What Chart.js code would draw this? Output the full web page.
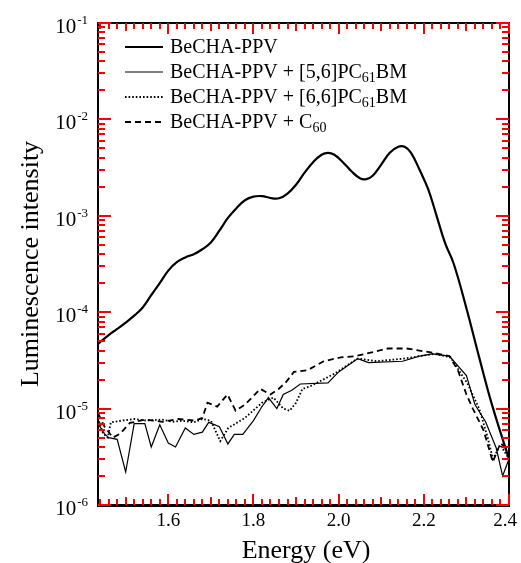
<!DOCTYPE html>
<html><head><meta charset="utf-8">
<script src="https://cdn.jsdelivr.net/npm/chart.js@4.4.1/dist/chart.umd.min.js"></script>
<style>html,body{margin:0;padding:0;background:#fff}#wrap{width:521px;height:563px}</style>
</head><body><div id="wrap"><canvas id="c" width="521" height="563"></canvas></div>
<script>
// ---- data ----
const seriesNames = ["BeCHA-PPV", "BeCHA-PPV + [5,6]PC61BM", "BeCHA-PPV + [6,6]PC61BM", "BeCHA-PPV + C60"];
const pristineE = [1.435,1.46,1.48,1.50,1.52,1.54,1.56,1.58,1.60,1.62,1.64,1.66,1.68,1.70,1.72,1.74,1.76,1.78,1.80,1.82,1.84,1.86,1.88,1.90,1.92,1.94,1.96,1.975,1.99,2.01,2.03,2.05,2.065,2.08,2.10,2.12,2.14,2.155,2.17,2.19,2.21,2.23,2.25,2.27,2.30,2.33,2.36,2.40];
const pristineI = [4.7e-5,5.8e-5,6.7e-5,7.8e-5,9.2e-5,1.12e-4,1.5e-4,2.0e-4,2.7e-4,3.3e-4,3.7e-4,4.0e-4,4.5e-4,5.3e-4,7.0e-4,9.5e-4,1.2e-3,1.45e-3,1.58e-3,1.6e-3,1.53e-3,1.52e-3,1.7e-3,2.1e-3,2.8e-3,3.6e-3,4.3e-3,4.5e-3,4.3e-3,3.6e-3,2.9e-3,2.45e-3,2.4e-3,2.6e-3,3.4e-3,4.5e-3,5.2e-3,5.2e-3,4.5e-3,3.0e-3,1.9e-3,1.0e-3,5.2e-4,3.2e-4,1.1e-4,3.4e-5,1.1e-5,3.0e-6];
const pc56E = [1.435,1.45,1.46,1.48,1.50,1.52,1.545,1.56,1.58,1.60,1.617,1.64,1.66,1.68,1.695,1.72,1.74,1.755,1.775,1.80,1.82,1.835,1.855,1.87,1.89,1.91,1.975,2.00,2.045,2.07,2.15,2.19,2.22,2.26,2.30,2.32,2.345,2.37,2.385,2.40];
const pc56I = [7e-6,5.5e-6,5e-6,4.8e-6,2.2e-6,7e-6,7e-6,4e-6,6.8e-6,4.4e-6,4e-6,6.3e-6,5.4e-6,5.7e-6,7.2e-6,6.5e-6,4.3e-6,5.4e-6,5.4e-6,7.5e-6,1.05e-5,1.3e-5,1.0e-5,1.4e-5,1.55e-5,1.8e-5,1.85e-5,2.4e-5,3.3e-5,3.0e-5,3.1e-5,3.5e-5,3.7e-5,3.5e-5,2.2e-5,1.1e-5,7.3e-6,3.9e-6,2.0e-6,3.0e-6];
const pc66E = [1.435,1.447,1.458,1.465,1.49,1.52,1.55,1.586,1.61,1.633,1.66,1.68,1.70,1.722,1.741,1.78,1.82,1.847,1.87,1.885,1.90,1.915,1.933,1.99,2.044,2.09,2.153,2.225,2.263,2.303,2.33,2.35,2.362,2.38,2.40];
const pc66I = [8e-6,5.5e-6,5.0e-6,7.2e-6,7.5e-6,7.8e-6,7.5e-6,7.7e-6,7.3e-6,7.5e-6,7.2e-6,7.8e-6,7.5e-6,4.6e-6,6.3e-6,8e-6,1.15e-5,1.3e-5,1.0e-5,9.5e-6,1.15e-5,1.6e-5,1.7e-5,2.3e-5,3.3e-5,3.1e-5,3.3e-5,3.7e-5,3.4e-5,1.8e-5,1.0e-5,5e-6,3e-6,4.2e-6,3e-6];
const c60E = [1.435,1.45,1.47,1.487,1.51,1.546,1.586,1.623,1.663,1.68,1.692,1.715,1.739,1.758,1.78,1.816,1.84,1.859,1.875,1.895,1.927,1.965,2.005,2.04,2.075,2.115,2.16,2.22,2.26,2.28,2.30,2.315,2.34,2.362,2.38,2.40];
const c60I = [9e-6,6.5e-6,5e-6,5.5e-6,7.1e-6,7.7e-6,7.3e-6,7.8e-6,7.5e-6,8e-6,1.15e-5,1.05e-5,1.4e-5,9.5e-6,1.1e-5,1.6e-5,1.4e-5,1.6e-5,1.85e-5,2.4e-5,2.5e-5,3.1e-5,3.4e-5,3.5e-5,3.8e-5,4.2e-5,4.2e-5,3.8e-5,3.5e-5,2.5e-5,1.4e-5,1.0e-5,6e-6,2.8e-6,4.4e-6,3.6e-6];
const xTicks = [1.6, 1.8, 2.0, 2.2, 2.4];
const xTickLabels = ["1.6", "1.8", "2.0", "2.2", "2.4"];
const yTicks = [1e-6, 1e-5, 1e-4, 1e-3, 1e-2, 1e-1];
const yTickExps = ["-6", "-5", "-4", "-3", "-2", "-1"];
const xTitle = "Energy (eV)";
const yTitle = "Luminescence intensity";

const pts = (E, I) => E.map((e, i) => ({x: e, y: I[i]}));
const SERIF = '"Liberation Serif", "Times New Roman", serif';

const styles = [
  {borderWidth: 2.2, borderDash: [], tension: 0.4},
  {borderWidth: 1.2, borderDash: [], tension: 0},
  {borderWidth: 1.8, borderDash: [1.6, 2.0], tension: 0},
  {borderWidth: 1.8, borderDash: [6, 4], tension: 0}
];
const dataSets = [pts(pristineE, pristineI), pts(pc56E, pc56I), pts(pc66E, pc66I), pts(c60E, c60I)];

function richText(ctx, segs, x, y, size) {
  let cx = x;
  for (const [t, sub] of segs) {
    ctx.font = (sub ? Math.round(size * 0.68) : size) + 'px ' + SERIF;
    ctx.fillText(t, cx, sub ? y + size * 0.28 : y);
    cx += ctx.measureText(t).width;
  }
}

function drawTicks(ctx, a, xs, ys) {
  ctx.save();
  ctx.fillStyle = 'red';
  for (let k = 72; k <= 120; k++) {
    const px = Math.round(xs.getPixelForValue(k / 50));
    const len = (k % 10 === 0) ? 11 : (k % 5 === 0 ? 8 : 6);
    ctx.fillRect(px - 1, a.bottom - len, 2, len);
    ctx.fillRect(px - 1, a.top, 2, len);
  }
  for (let d = -6; d <= -2; d++) {
    for (let m = 1; m <= 10; m++) {
      const py = Math.round(ys.getPixelForValue(m * Math.pow(10, d)));
      const len = (m === 1 || m === 10) ? 13 : 7;
      ctx.fillRect(a.left, py - 1, len, 2);
      ctx.fillRect(a.right - len, py - 1, len, 2);
    }
  }
  ctx.restore();
}

const deco = {
  id: 'deco',
  afterDraw(chart) {
    const ctx = chart.ctx, a = chart.chartArea;
    const xs = chart.scales.x, ys = chart.scales.y;
    ctx.save();
    ctx.setLineDash([]);
    ctx.strokeStyle = '#000'; ctx.fillStyle = '#000';
    ctx.lineWidth = 2;
    ctx.strokeRect(a.left, a.top, a.right - a.left, a.bottom - a.top);
    ctx.fillRect(a.left - 1, a.bottom - 1, a.right - a.left + 2, 3);
    drawTicks(ctx, a, xs, ys);
    ctx.fillStyle = '#000';
    ctx.font = '19px ' + SERIF;
    ctx.textAlign = 'center'; ctx.textBaseline = 'alphabetic';
    xTicks.forEach((v, i) => ctx.fillText(xTickLabels[i], xs.getPixelForValue(v) - (i === 4 ? 4 : 0), a.bottom + 21));
    yTicks.forEach((v, i) => {
      const py = ys.getPixelForValue(v);
      ctx.textAlign = 'right';
      ctx.font = '13px ' + SERIF;
      const ew = ctx.measureText(yTickExps[i]).width;
      const right = a.left - 10;
      ctx.fillText(yTickExps[i], right, py + 1);
      ctx.font = '21px ' + SERIF;
      ctx.fillText('10', right - ew - 1, py + 10);
    });
    ctx.textAlign = 'center';
    ctx.font = '26px ' + SERIF;
    ctx.fillText(xTitle, 306, 558);
    ctx.save();
    ctx.translate(38, 264);
    ctx.rotate(-Math.PI / 2);
    ctx.fillText(yTitle, 0, 0);
    ctx.restore();
    const rows = [
      [[seriesNames[0], false]],
      [["BeCHA-PPV + [5,6]PC", false], ["61", true], ["BM", false]],
      [["BeCHA-PPV + [6,6]PC", false], ["61", true], ["BM", false]],
      [["BeCHA-PPV + C", false], ["60", true]]
    ];
    ctx.textAlign = 'left'; ctx.textBaseline = 'middle';
    rows.forEach((segs, i) => {
      const y = 47 + i * 25;
      const st = styles[i];
      ctx.lineWidth = st.borderWidth;
      ctx.setLineDash(st.borderDash);
      ctx.beginPath(); ctx.moveTo(125, y); ctx.lineTo(163, y); ctx.stroke();
      ctx.setLineDash([]);
      richText(ctx, segs, 170, y + 1, 20);
    });
    ctx.restore();
  }
};

new Chart(document.getElementById('c'), {
  type: 'line',
  data: {
    datasets: dataSets.map((d, i) => ({
      label: seriesNames[i], data: d,
      borderColor: '#000', backgroundColor: '#000',
      borderWidth: styles[i].borderWidth, borderDash: styles[i].borderDash,
      tension: styles[i].tension, pointRadius: 0, fill: false
    }))
  },
  options: {
    responsive: false, animation: false, devicePixelRatio: 1,
    layout: {padding: {left: 98, top: 23, right: 12, bottom: 58}},
    plugins: {legend: {display: false}, tooltip: {enabled: false}},
    scales: {
      x: {type: 'linear', min: 1.435, max: 2.4, display: false},
      y: {type: 'logarithmic', min: 1e-6, max: 1e-1, display: false}
    }
  },
  plugins: [deco]
});
</script></body></html>
